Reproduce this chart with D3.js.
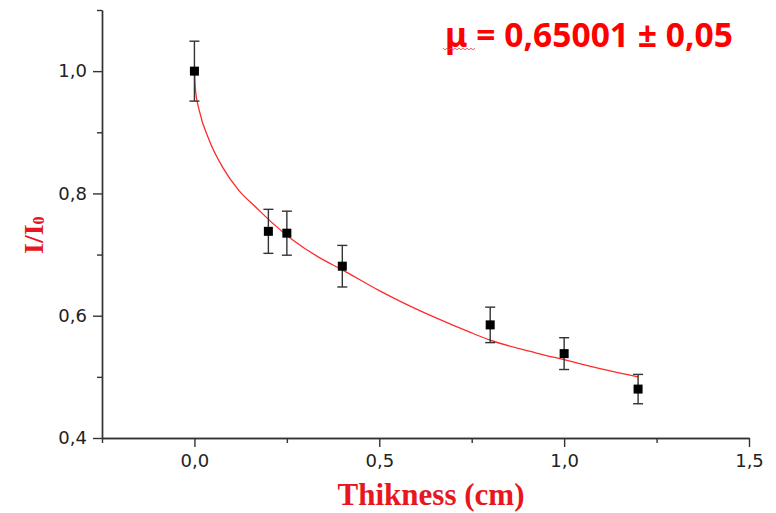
<!DOCTYPE html>
<html>
<head>
<meta charset="utf-8">
<script src="https://cdn.jsdelivr.net/npm/d3@7"></script>
<style>
  body { margin: 0; background: #fff; }
  .axis path, .axis line { stroke: #333; stroke-width: 1.4px; }
  .axis text { font-family: "DejaVu Sans", sans-serif; font-size: 18px; fill: #222; }
</style>
</head>
<body>
<svg width="776" height="513"></svg>
<script>
// measured points (thickness in cm, I/I0 and its error)
var thickness = [0, 0.2, 0.25, 0.4, 0.8, 1.0, 1.2];
var ratio = [1.0, 0.738, 0.735, 0.681, 0.585, 0.538, 0.48];
var ratioErr = [0.049, 0.036, 0.036, 0.034, 0.029, 0.026, 0.024];

// fitted curve
var fitX = [0, 0.003, 0.013, 0.04, 0.076, 0.12, 0.167, 0.212, 0.266, 0.338, 0.4, 0.5, 0.565, 0.655, 0.745, 0.8, 0.925, 1.0, 1.1, 1.2];
var fitY = [1.0, 0.968, 0.936, 0.887, 0.843, 0.805, 0.777, 0.751, 0.724, 0.695, 0.675, 0.641, 0.621, 0.596, 0.573, 0.56, 0.539, 0.528, 0.513, 0.5];

var xMajor = [0, 0.5, 1.0, 1.5], xMinor = [-0.25, 0.25, 0.75, 1.25];
var yMajor = [0.4, 0.6, 0.8, 1.0], yMinor = [0.5, 0.7, 0.9, 1.1];

var svg = d3.select("svg"),
    margin = {top: 10, right: 27, bottom: 75, left: 102},
    width = +svg.attr("width") - margin.left - margin.right,
    height = +svg.attr("height") - margin.top - margin.bottom;

var x = d3.scaleLinear().domain([-0.25, 1.5]).range([0, width]),
    y = d3.scaleLinear().domain([0.4, 1.1]).range([height, 0]);

var fmt = function(d) { return d3.format(".1f")(d).replace(".", ","); };

var g = svg.append("g")
    .attr("transform", "translate(" + margin.left + "," + margin.top + ")");

// axes: minor ticks first, then major with labels
g.append("g").attr("class", "axis")
    .attr("transform", "translate(0," + height + ")")
    .call(d3.axisBottom(x).tickValues(xMinor).tickSize(5).tickFormat("").tickSizeOuter(0));
g.append("g").attr("class", "axis")
    .attr("transform", "translate(0," + height + ")")
    .call(d3.axisBottom(x).tickValues(xMajor).tickSize(9).tickPadding(7).tickFormat(fmt).tickSizeOuter(0));

g.append("g").attr("class", "axis")
    .call(d3.axisLeft(y).tickValues(yMinor).tickSize(5).tickFormat("").tickSizeOuter(0));
g.append("g").attr("class", "axis")
    .call(d3.axisLeft(y).tickValues(yMajor).tickSize(9).tickPadding(6).tickFormat(fmt).tickSizeOuter(0));

// fit curve
var fit = fitX.map(function(d, i) { return [d, fitY[i]]; });
g.append("path")
    .datum(fit)
    .attr("fill", "none")
    .attr("stroke", "#ff2a2a")
    .attr("stroke-width", 1.3)
    .attr("d", d3.line()
      .x(function(d) { return x(d[0]); })
      .y(function(d) { return y(d[1]); })
      .curve(d3.curveMonotoneX));

// error bars
var pts = thickness.map(function(d, i) { return {t: d, r: ratio[i], e: ratioErr[i]}; });
var eb = g.selectAll(".err").data(pts).enter().append("g")
    .attr("class", "err")
    .attr("stroke", "#333")
    .attr("stroke-width", 1.4);
eb.append("line")
    .attr("x1", function(d) { return x(d.t); }).attr("x2", function(d) { return x(d.t); })
    .attr("y1", function(d) { return y(d.r + d.e); }).attr("y2", function(d) { return y(d.r - d.e); });
eb.append("line")
    .attr("x1", function(d) { return x(d.t) - 5; }).attr("x2", function(d) { return x(d.t) + 5; })
    .attr("y1", function(d) { return y(d.r + d.e); }).attr("y2", function(d) { return y(d.r + d.e); });
eb.append("line")
    .attr("x1", function(d) { return x(d.t) - 5; }).attr("x2", function(d) { return x(d.t) + 5; })
    .attr("y1", function(d) { return y(d.r - d.e); }).attr("y2", function(d) { return y(d.r - d.e); });

// square markers
g.selectAll(".pt").data(pts).enter().append("rect")
    .attr("class", "pt")
    .attr("x", function(d) { return x(d.t) - 4.5; })
    .attr("y", function(d) { return y(d.r) - 4.5; })
    .attr("width", 9).attr("height", 9)
    .attr("fill", "#000");

// axis titles
svg.append("text")
    .attr("x", margin.left + x(0.64)).attr("y", 505)
    .attr("text-anchor", "middle")
    .attr("font-family", "'Liberation Serif', 'Times New Roman', serif")
    .attr("font-weight", "bold").attr("font-size", 31)
    .attr("fill", "#e8161e")
    .text("Thikness (cm)");

var yl = svg.append("text")
    .attr("transform", "translate(43,254) rotate(-90)")
    .attr("font-family", "'Liberation Serif', 'Times New Roman', serif")
    .attr("font-weight", "bold").attr("font-size", 28)
    .attr("fill", "#e8161e");
yl.append("tspan").text("I/I");
yl.append("tspan").attr("font-size", 16).attr("dy", 1).text("0");

// fit result
svg.append("text")
    .attr("x", 445).attr("y", 47)
    .attr("font-family", "'Noto Sans', 'Open Sans', sans-serif")
    .attr("font-weight", "bold").attr("font-size", 33.6)
    .attr("fill", "#ff0000")
    .text("μ = 0,65001 ± 0,05");

// spell-check squiggle under μ
var sq = d3.range(0, 33, 2).map(function(d, i) { return [443 + d, 49 + (i % 2 ? 1 : -1) * 0.8]; });
svg.append("path")
    .attr("d", d3.line()(sq))
    .attr("fill", "none").attr("stroke", "#e04040").attr("stroke-width", 0.8);
</script>
</body>
</html>
